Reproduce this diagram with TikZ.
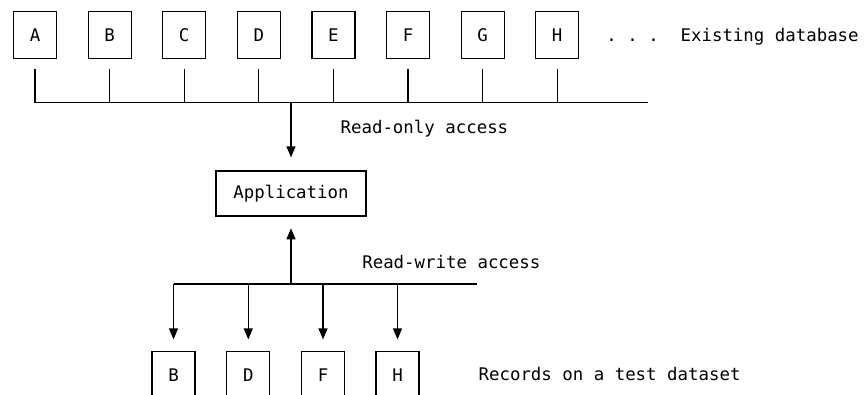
\documentclass[tikz,border=0pt]{standalone}
\usepackage{fontspec}
\setmonofont{DejaVu Sans Mono}
\usetikzlibrary{arrows.meta,calc}
\begin{document}
\begin{tikzpicture}[x=1bp,y=-1bp, line width=1.2bp,
  every node/.style={font=\ttfamily\fontsize{17.4bp}{20bp}\selectfont},
  rec/.style={draw, minimum width=43bp, minimum height=47bp, inner sep=0pt},
  appbox/.style={draw, minimum width=150bp, minimum height=45bp, inner sep=0pt},
  lbl/.style={anchor=base west, inner sep=0pt},
  arr/.style={-{Triangle[width=9bp,length=11bp]}}]
\useasboundingbox (0,0) rectangle (864,394);
\clip (0,0) rectangle (864,394);
% top records
\foreach \n/\x in {A/35,B/109.6,C/184.2,D/258.8,E/333.4,F/408,G/482.6,H/557.2}{
  \node[rec] (\n) at (\x,35) {\n};
  \coordinate (bus\n) at (\x,102.7);
  \draw ($(\n.south)+(0,10)$) -- (bus\n);
}
\coordinate (busR) at (648,102.7);
\draw (busA) -- (busR);
\node[lbl] (dots) at (605.75,41) {.\ .\ .};
\node[lbl] (ed) at (680,41) {Existing database};
% application
\node[appbox] (app) at (291,193.5) {Application};
\coordinate (busapp) at (291,102.7);
\draw[arr] (busapp) -- ($(app.north)+(0,-13)$);
\node[lbl] (ro) at (340,133.3) {Read-only access};
% lower bus
\coordinate (lbus) at (291,284);
\draw[arr] (lbus) -- ($(app.south)+(0,11.7)$);
\node[lbl] (rw) at (361.7,268.3) {Read-write access};
\coordinate (lbusR) at (477.3,284);
\foreach \n/\x in {B/173.5,D/248.3,F/323,H/397.5}{
  \node[rec] (t\n) at (\x,375.2) {\n};
  \coordinate (lb\n) at (\x,284);
  \draw[arr] (lb\n) -- ($(t\n.north)+(0,-11.7)$);
}
\draw (lbB) -- (lbusR);
\node[lbl] (recs) at (478,380.7) {Records on a test dataset};
\end{tikzpicture}
\end{document}
